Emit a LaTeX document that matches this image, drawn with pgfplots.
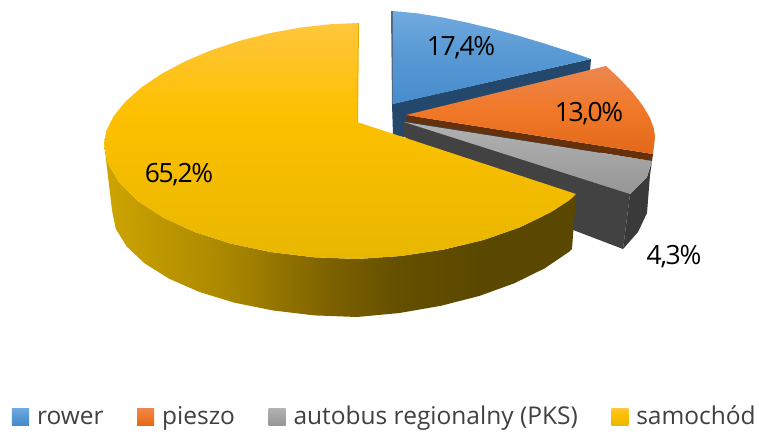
\documentclass[border=0pt]{standalone}
\usepackage{fontspec}
\setmainfont{Open Sans}
\newfontface\labfont[LetterSpace=-5.0]{Open Sans}
\usepackage{pgfplots}
\pgfplotsset{compat=1.18}

\definecolor{blT}{RGB}{114,170,224}
\definecolor{blM}{RGB}{91,155,213}
\definecolor{blB}{RGB}{70,140,205}
\definecolor{orT}{RGB}{236,135,80}
\definecolor{orM}{RGB}{240,120,40}
\definecolor{orB}{RGB}{226,105,25}
\definecolor{grT}{RGB}{178,178,178}
\definecolor{grB}{RGB}{150,150,150}
\definecolor{yeT}{RGB}{255,198,60}
\definecolor{yeM}{RGB}{254,192,0}
\definecolor{yeB}{RGB}{232,183,0}
\definecolor{wy1}{RGB}{206,165,0}
\definecolor{wy2}{RGB}{170,135,0}
\definecolor{wy3}{RGB}{125,97,0}
\definecolor{wy4}{RGB}{100,80,0}
\definecolor{wy5}{RGB}{90,72,0}
\definecolor{wallblue}{RGB}{35,72,108}
\definecolor{wallbrown}{RGB}{101,48,10}
\definecolor{wallgray}{RGB}{66,66,66}
\definecolor{wallgray2}{RGB}{58,58,58}
\definecolor{legtext}{RGB}{64,64,64}

\pgfdeclareverticalshading{blueTop}{100bp}{color(0bp)=(blB); color(25bp)=(blB); color(55bp)=(blM); color(75bp)=(blT); color(100bp)=(blT)}
\pgfdeclareverticalshading{orangeTop}{100bp}{color(0bp)=(orB); color(25bp)=(orB); color(50bp)=(orM); color(75bp)=(orT); color(100bp)=(orT)}
\pgfdeclareverticalshading{grayTop}{100bp}{color(0bp)=(grB); color(25bp)=(grB); color(75bp)=(grT); color(100bp)=(grT)}
\pgfdeclareverticalshading{yellowTop}{100bp}{color(0bp)=(yeB); color(25bp)=(yeB); color(56bp)=(yeM); color(75bp)=(yeT); color(100bp)=(yeT)}
\pgfdeclarehorizontalshading{yellowWall}{100bp}{color(0bp)=(wy1); color(25bp)=(wy1); color(38bp)=(wy2); color(49bp)=(wy3); color(56bp)=(wy4); color(65bp)=(wy5); color(100bp)=(wy5)}

\pgfplotsset{sl/.style={draw=none, forget plot}}
\tikzset{lab/.style={font=\labfont\fontsize{26.5}{28}\selectfont}}

\begin{document}
\begin{tikzpicture}
\begin{axis}[
    scale only axis,
    width=759pt,
    height=430pt,
    xmin=0, xmax=759,
    ymin=0, ymax=430,
    y dir=reverse,
    hide axis,
    clip=false,
    legend columns=4,
    legend cell align=left,
    legend style={
        draw=none, fill=none,
        at={(axis cs:12,419)}, anchor=west,
        inner sep=0pt, outer sep=0pt,
        font=\fontsize{24.5}{28}\selectfont\color{legtext},
        nodes={text height=18pt, text depth=7pt},
        /tikz/every odd column/.append style={column sep=6pt},
        /tikz/every even column/.append style={column sep=31.5pt},
    },
]
\path (axis cs:0,0) rectangle (axis cs:759,430);
% rower
\addplot[sl, fill=wallblue] coordinates {
    (392,104) (591,59) (590,71) (410,118) (410,126) (404,137) (393,135)
};
\addplot[sl, fill=wallblue!80] coordinates {
    (391,11) (393,11) (393,104) (392,104)
};
\addplot[sl, shade, shading=blueTop] coordinates {
    (393,11) (418,13.4) (443,17.5) (468,22.8) (493,28.8) (518,35.6) (543,43.1) (568,51.1) (591,59) (393,104)
};
% autobus regionalny
\addplot[sl, fill=wallgray] coordinates {
    (404,120) (600,152) (630,194) (623,249) (560,225) (403,136)
};
\addplot[sl, fill=wallgray2] coordinates {
    (652,161) (650,175) (647,213) (638,232) (623,249) (630,194) (647,177)
};
\addplot[sl, shade, shading=grayTop] coordinates {
    (404,122) (652,161) (647,177) (630,194)
};
% pieszo
\addplot[sl, fill=wallbrown] coordinates {
    (406,115) (653,154) (652,161) (407,121)
};
\addplot[sl, shade, shading=orangeTop] coordinates {
    (406,115) (606,66) (620,79) (633,93) (643,106) (650,118) (654,129) (655,137) (654,146) (653,154)
};
% samochod
\addplot[sl, shade, shading=yellowWall] coordinates {
    (104,143) (107.8,163.1) (119.3,182.7) (137.9,201) (163.2,217.6) (194.4,231.9) (230.5,243.5) (270.5,252) (313.1,257.2) (357,259) (400.9,256) (443.5,249.6) (483.5,240) (519.6,227.4) (550.8,212.3) (569.2,200.4) (576,194)
    (572,249) (569.2,251.7) (544.7,268.3) (514.5,283.2) (479.5,295.9) (440.8,305.8) (399.5,313) (357,317) (314.5,315.4) (273.2,310.5) (234.5,302.7) (199.5,292) (169.3,278.8) (144.8,263.5) (126.8,246.6) (115.7,228.6) (112,210)
};
\addplot[sl, fill=yeM!90!black] coordinates {
    (357,23) (359,23) (358,122) (356,122)
};
\addplot[sl, shade, shading=yellowTop] coordinates {
    (358,23) (330.7,24.2) (300.7,27.5) (270,33.1) (239.9,40.7) (211.2,50.2) (184.9,61.4) (161.4,73.9) (141.4,87.4) (125.3,101.7) (113.6,116.3) (106.4,130.5) (104,143) (107.8,163.1) (119.3,182.7) (137.9,201) (163.2,217.6) (194.4,231.9) (230.5,243.5) (270.5,252) (313.1,257.2) (357,259) (400.9,256) (443.5,249.6) (483.5,240) (519.6,227.4) (550.8,212.3) (569.2,200.4) (576,194) (357,122)
};
% legend
\addlegendimage{legend image code/.code={\path[draw=none, shade, shading=blueTop] (0pt,-6pt) rectangle (17pt,11pt);}}
\addlegendentry{rower}
\addlegendimage{legend image code/.code={\path[draw=none, shade, shading=orangeTop] (0pt,-6pt) rectangle (17pt,11pt);}}
\addlegendentry{pieszo}
\addlegendimage{legend image code/.code={\path[draw=none, shade, shading=grayTop] (0pt,-6pt) rectangle (17pt,11pt);}}
\addlegendentry{autobus regionalny (PKS)}
\addlegendimage{legend image code/.code={\path[draw=none, shade, shading=yellowTop] (0pt,-6pt) rectangle (17pt,11pt);}}
\addlegendentry{samochód}
% data labels
\node[lab] at (axis cs:461,48) {17,4\%};
\node[lab] at (axis cs:589,114) {13,0\%};
\node[lab] at (axis cs:674,257) {4,3\%};
\node[lab] at (axis cs:179,175) {65,2\%};
\end{axis}
\end{tikzpicture}
\end{document}
